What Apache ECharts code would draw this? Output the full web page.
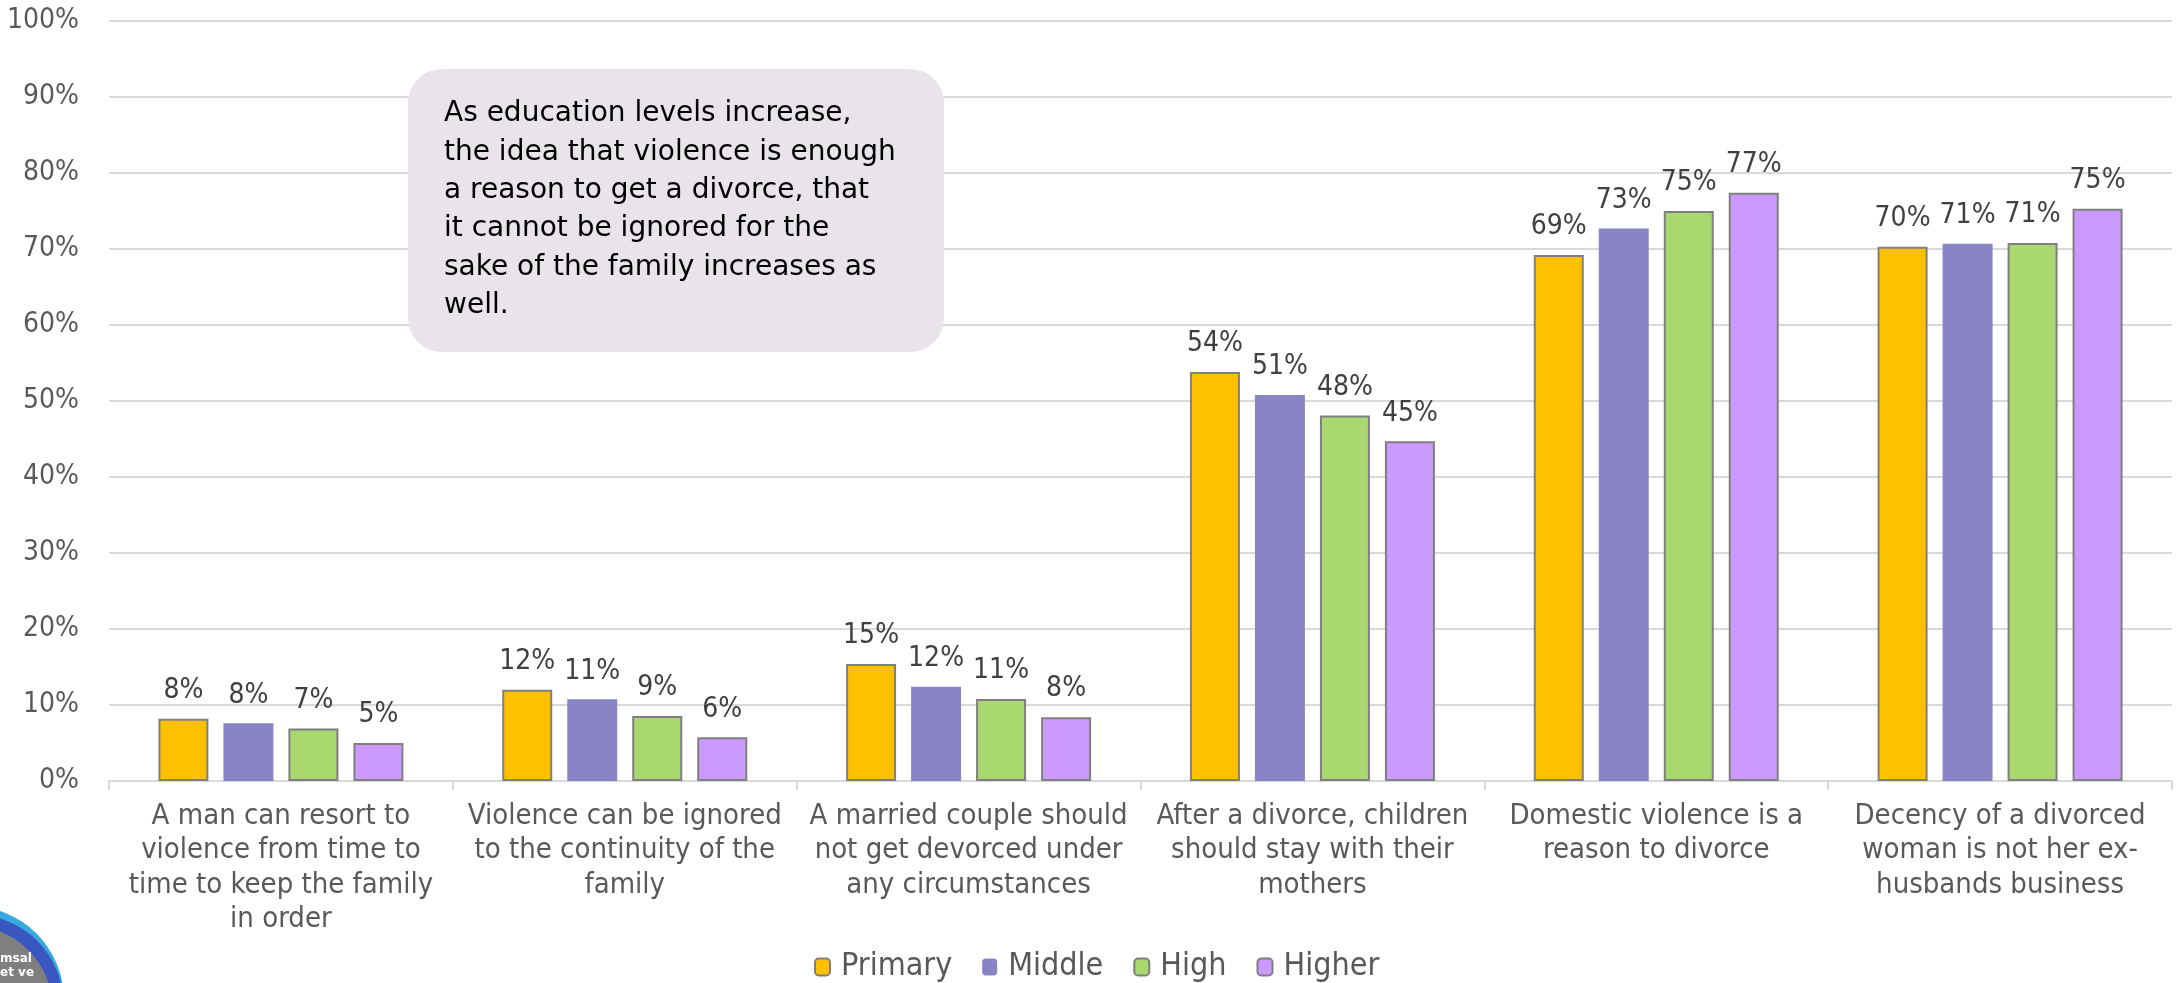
<!DOCTYPE html>
<html>
<head>
<meta charset="utf-8">
<script src="https://cdn.jsdelivr.net/npm/echarts@6/dist/echarts.min.js"></script>
<style>
html,body{margin:0;padding:0;background:#fff;}
#chart{width:2177px;height:983px;}
</style>
</head>
<body>
<div id="chart"></div>
<script>
const categories = [
  "A man can resort to\nviolence from time to\ntime to keep the family\nin order",
  "Violence can be ignored\nto the continuity of the\nfamily",
  "A married couple should\nnot get devorced under\nany circumstances",
  "After a divorce, children\nshould stay with their\nmothers",
  "Domestic violence is a\nreason to divorce",
  "Decency of a divorced\nwoman is not her ex-\nhusbands business"
];
const seriesNames = ["Primary", "Middle", "High", "Higher"];
const primary = [8.2, 12.0, 15.4, 53.8, 69.2, 70.3];
const middle  = [7.6, 10.75, 12.4, 50.8, 72.7, 70.7];
const high    = [6.9, 8.55, 10.8, 48.1, 75.0, 70.8];
const higher  = [5.0, 5.75, 8.4, 44.7, 77.4, 75.3];
const yTicks = [0, 10, 20, 30, 40, 50, 60, 70, 80, 90, 100];
const noteText = "As education levels increase,\nthe idea that violence is enough\na reason to get a divorce, that\nit cannot be ignored for the\nsake of the family increases as\nwell.";

const NARROW = "'DejaVu Sans Condensed', 'DejaVu Sans', sans-serif";
const colors = ["#FFC000", "#8884C5", "#A9D86E", "#CC99FF"];
const borders = [true, false, true, true];
const values = [primary, middle, high, higher];

const chart = echarts.init(document.getElementById('chart'), null, {renderer: 'canvas'});

const series = seriesNames.map((n, i) => ({
  name: n,
  type: 'bar',
  data: values[i],
  barWidth: 50,
  barGap: '30%',
  itemStyle: {
    color: colors[i],
    borderColor: borders[i] ? '#7F7F7F' : colors[i],
    borderWidth: borders[i] ? 2 : 0
  },
  label: {
    show: true,
    position: 'top',
    distance: 14,
    formatter: p => Math.round(p.value) + '%',
    color: '#404040',
    fontFamily: NARROW,
    fontSize: 28
  }
}));

chart.setOption({
  animation: false,
  backgroundColor: '#ffffff',
  grid: {left: 109, right: 5, top: 21, bottom: 202, containLabel: false},
  xAxis: {
    type: 'category',
    data: categories,
    axisLine: {show: true, lineStyle: {color: '#D9D9D9', width: 2}},
    axisTick: {show: true, alignWithLabel: false, length: 9, lineStyle: {color: '#D9D9D9', width: 2}},
    axisLabel: {
      interval: 0,
      margin: 18,
      color: '#595959',
      fontFamily: NARROW,
      fontSize: 29,
      lineHeight: 34.5
    }
  },
  yAxis: {
    type: 'value',
    min: yTicks[0],
    max: yTicks[yTicks.length - 1],
    interval: 10,
    axisLine: {show: false},
    axisTick: {show: false},
    splitLine: {lineStyle: {color: '#D9D9D9', width: 2}},
    axisLabel: {
      margin: 30,
      color: '#595959',
      fontFamily: NARROW,
      fontSize: 28,
      formatter: '{value}%'
    }
  },
  legend: {
    data: seriesNames,
    left: 809,
    top: 946,
    itemWidth: 15,
    itemHeight: 17,
    itemGap: 30,
    textStyle: {color: '#595959', fontFamily: NARROW, fontSize: 32, padding: [0, 0, 0, 6]}
  },
  series: series,
  graphic: [
    {
      type: 'rect',
      shape: {x: 408, y: 69, width: 536, height: 283, r: 34},
      style: {fill: '#E8E4EA'},
      z: 100
    },
    {
      type: 'text',
      left: 444,
      top: 95,
      z: 101,
      style: {
        text: noteText,
        fill: '#000000',
        font: "28px 'DejaVu Sans', sans-serif",
        lineHeight: 38.3
      }
    },
    {type: 'circle', shape: {cx: -30, cy: 1000, r: 94}, style: {fill: '#36A9E1'}, z: 100},
    {type: 'circle', shape: {cx: -25, cy: 1003, r: 88}, style: {fill: '#3A56C0'}, z: 101},
    {type: 'circle', shape: {cx: -32, cy: 1010, r: 85}, style: {fill: '#7F7F7F'}, z: 102},
    {
      type: 'text', left: 0, top: 952, z: 103,
      style: {text: 'msal\net ve', fill: '#ffffff', font: "bold 12px 'DejaVu Sans', sans-serif", lineHeight: 14}
    }
  ]
});
</script>
</body>
</html>
